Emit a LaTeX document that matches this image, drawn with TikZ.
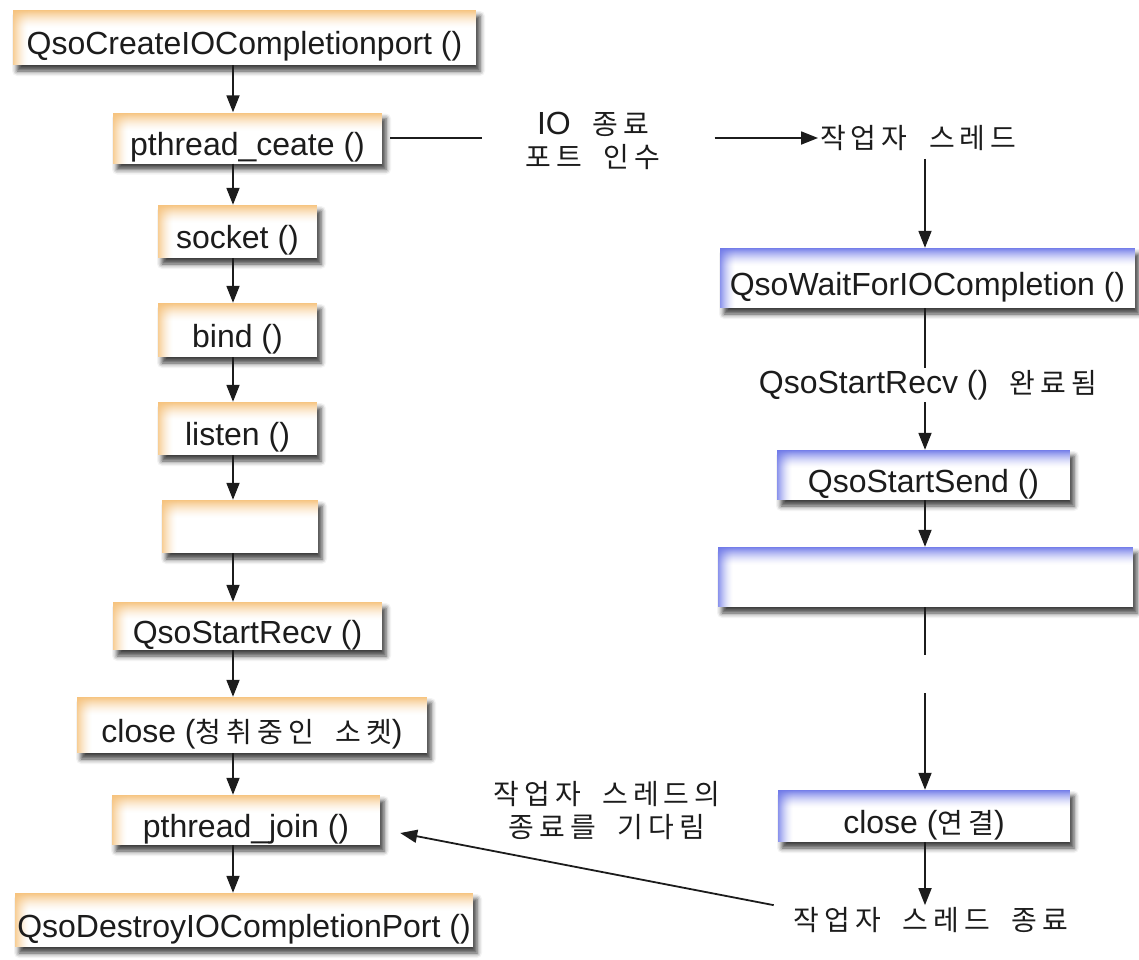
\documentclass[tikz,border=0pt]{standalone}
\usepackage{fontspec}
\setmainfont{Liberation Sans}
\newfontfamily\kr[Scale=0.875,LetterSpace=18,WordSpace=1.9]{Noto Sans CJK KR}
\usetikzlibrary{arrows.meta,shadows.blur}

\definecolor{ink}{RGB}{28,28,28}
\definecolor{orangetop}{RGB}{246,194,124}
\definecolor{bluetop}{RGB}{110,120,232}

\tikzset{
  procbox/.style={rectangle, fill=white, inner sep=0pt, text=ink,
    text height=34pt, text depth=0pt,
    blur shadow={shadow xshift=4pt, shadow yshift=-6pt,
                 shadow blur radius=5pt, shadow opacity=75},
    path picture={
      % soft tinted band along the top edge
      \foreach \i [evaluate=\i as \op using 0.95*(1-\i/18)^1.6] in {0,...,17}
        \fill[#1, fill opacity=\op]
          ([yshift=-\i pt]path picture bounding box.north west) rectangle
          ([yshift=-\i pt-1pt]path picture bounding box.north east);
      % softer band along the left edge
      \foreach \i [evaluate=\i as \op using 0.8*(1-\i/15)^1.6] in {0,...,14}
        \fill[#1, fill opacity=\op]
          ([xshift=\i pt]path picture bounding box.north west) rectangle
          ([xshift=\i pt+1pt]path picture bounding box.south west);
    }},
  leftbox/.style={procbox=orangetop},
  rightbox/.style={procbox=bluetop},
  lbl/.style={text=ink, inner sep=2pt, align=center},
  ln/.style={draw=ink, line width=1.8pt},
  arr/.style={draw=ink, line width=1.8pt, -{Triangle[length=17pt,width=13pt]}}
}

\begin{document}
\begin{tikzpicture}[x=1pt, y=-1pt, font=\fontsize{32}{33}\selectfont]
\useasboundingbox (0,0) rectangle (1139,959);

% main thread
\node[leftbox, minimum width=463pt, minimum height=55pt] (L1) at (244.5,37.5) {QsoCreateIOCompletionport ()};
\node[leftbox, minimum width=269pt, minimum height=51pt] (L2) at (247.5,138) {pthread\_ceate ()};
\node[leftbox, minimum width=159pt, minimum height=53pt] (L3) at (237.5,231.5) {socket ()};
\node[leftbox, minimum width=159pt, minimum height=54pt] (L4) at (237.5,330) {bind ()};
\node[leftbox, minimum width=159pt, minimum height=53pt] (L5) at (237.5,428.5) {listen ()};
\node[leftbox, minimum width=156pt, minimum height=53pt] (L6) at (240,526.5) {};
\node[leftbox, minimum width=269pt, minimum height=48pt] (L7) at (247.5,626) {QsoStartRecv ()};
\node[leftbox, minimum width=350pt, minimum height=56pt] (L8) at (252,725) {close ({\kr 청취중인 소켓})};
\node[leftbox, minimum width=268pt, minimum height=50pt] (L9) at (246,820) {pthread\_join ()};
\node[leftbox, minimum width=458pt, minimum height=54pt] (L10) at (244,920) {QsoDestroyIOCompletionPort ()};

\coordinate (lx) at (233,0);
\foreach \a/\b in {L1/L2,L2/L3,L3/L4,L4/L5,L5/L6,L6/L7,L7/L8,L8/L9,L9/L10}
  \draw[arr] (\a.south -| lx) -- (\b.north -| lx);

% hand-over of the completion port
\node[lbl] (IO) at (593,141) {IO{\kr{} 종료}\\{\kr 포트 인수}};
\node[lbl, anchor=west] (R0) at (818,138) {\kr 작업자 스레드};
\draw[ln] ([xshift=8pt]L2.east) -- ([xshift=-42pt]IO.west |- L2.east);
\draw[arr] ([xshift=52pt]IO.east |- R0.west) -- (R0.west);

% worker thread
\coordinate (rx) at (925,0);
\node[rightbox, minimum width=415pt, minimum height=60pt] (R1) at (927.5,278) {QsoWaitForIOCompletion ()};
\node[lbl] (RD) at (928,385) {QsoStartRecv ()\kr{} 완료됨};
\node[rightbox, minimum width=293pt, minimum height=50pt] (R2) at (923.5,475) {QsoStartSend ()};
\node[rightbox, minimum width=415pt, minimum height=60pt] (R3) at (925.5,577) {};
\node[rightbox, minimum width=292pt, minimum height=52pt] (R4) at (924,816) {close ({\kr 연결})};
\node[lbl] (RE) at (931,920) {\kr 작업자 스레드 종료};
\coordinate (gapA) at (925,655);
\coordinate (gapB) at (925,693);

\draw[arr, shorten <=6pt] (R0.south -| rx) -- (R1.north -| rx);
\draw[ln] (R1.south -| rx) -- (RD.north -| rx);
\draw[arr] (RD.south -| rx) -- (R2.north -| rx);
\draw[arr] (R2.south -| rx) -- (R3.north -| rx);
\draw[ln] (R3.south -| rx) -- (gapA);
\draw[arr] (gapB) -- (R4.north -| rx);
\draw[arr] (R4.south -| rx) -- (RE.north -| rx);

% waiting for the worker to end
\node[lbl] (WL) at (607,811) {\kr 작업자 스레드의\\\kr 종료를 기다림};
\draw[arr] ([xshift=-18pt]RE.north west) -- ([xshift=20pt,yshift=-13pt]L9.east);
\end{tikzpicture}
\end{document}
